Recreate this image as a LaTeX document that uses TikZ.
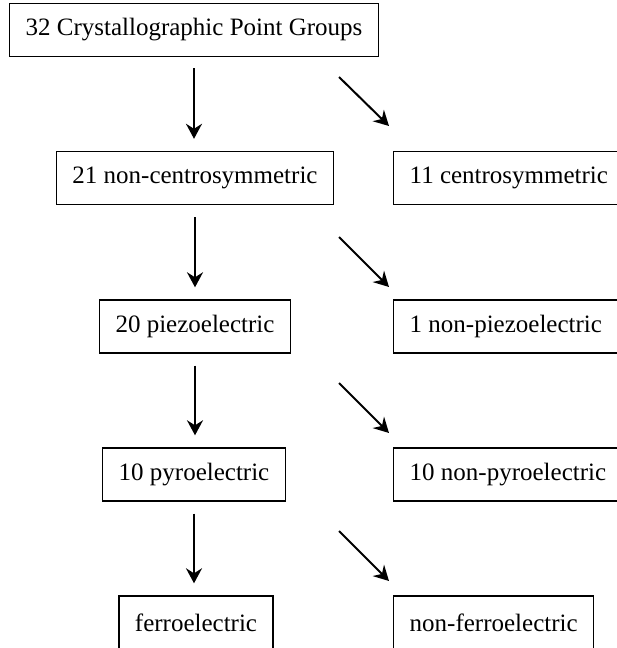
\documentclass[tikz,border=0pt]{standalone}
\usepackage{fontspec}
\setmainfont{Liberation Serif}
\usetikzlibrary{arrows.meta}

\begin{document}
\begin{tikzpicture}[x=1pt,y=-1pt,
  box/.style={draw, line width=1.4pt, minimum height=53pt, inner xsep=16pt, inner ysep=0pt, font=\fontsize{25}{30}\selectfont},
  leftbox/.style={box, anchor=center},
  rightbox/.style={box, anchor=west},
  flow/.style={-{Stealth[length=15pt,width=16pt,inset=5pt]}, line width=2pt}]
% page size of the reference (pixels as pt, y going down)
\useasboundingbox (0,0) rectangle (616,648);

% left column: the groups that go on, right column: the ones that split off
\node [leftbox] (groups) at (194,30) {32 Crystallographic Point Groups};
\node [leftbox] (noncentro) at (195,178) {21 non-centrosymmetric};
\node [rightbox] (centro) at (393,178) {11 centrosymmetric};
\node [leftbox] (piezo) at (195,326.5) {20 piezoelectric};
\node [rightbox] (nonpiezo) at (393,326.5) {1 non-piezoelectric};
\node [leftbox] (pyro) at (194,474.5) {10 pyroelectric};
\node [rightbox] (nonpyro) at (393,474.5) {10 non-pyroelectric};
\node [leftbox] (ferro) at (196,622.5) {ferroelectric};
\node [rightbox] (nonferro) at (393,622.5) {non-ferroelectric};

% straight down
\draw[flow, shorten <=11pt, shorten >=12pt] (groups.south) -- (groups.south |- noncentro.north);
\draw[flow, shorten <=12pt, shorten >=12pt] (noncentro.south) -- (noncentro.south |- piezo.north);
\draw[flow, shorten <=12pt, shorten >=12pt] (piezo.south) -- (piezo.south |- pyro.north);
\draw[flow, shorten <=12pt, shorten >=12pt] (pyro.south) -- (pyro.south |- ferro.north);

% slanted ones, they float between the rows
\coordinate (centro in) at (339,77);
\coordinate (centro out) at (389,126);
\coordinate (nonpiezo in) at (339,237);
\coordinate (nonpiezo out) at (389,287);
\coordinate (nonpyro in) at (339,383);
\coordinate (nonpyro out) at (389,433);
\coordinate (nonferro in) at (339,531);
\coordinate (nonferro out) at (389,581);
\draw[flow] (centro in) -- (centro out);
\draw[flow] (nonpiezo in) -- (nonpiezo out);
\draw[flow] (nonpyro in) -- (nonpyro out);
\draw[flow] (nonferro in) -- (nonferro out);
\end{tikzpicture}
\end{document}
